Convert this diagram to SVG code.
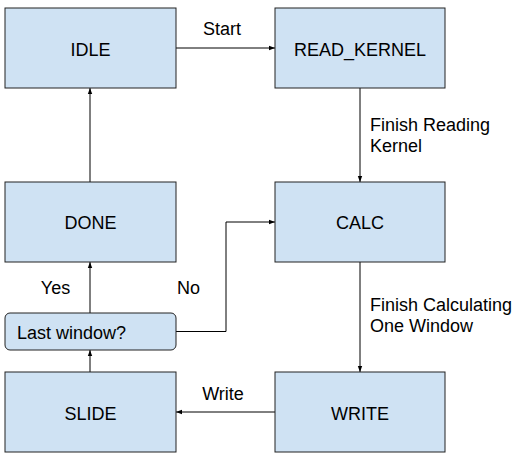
<svg xmlns="http://www.w3.org/2000/svg" width="524" height="463" viewBox="0 0 524 463">
<style>
.box{fill:#cfe2f3;stroke:#222;stroke-width:1}
.t{font-family:"Liberation Sans",Arial,sans-serif;font-size:18px;fill:#000}
.c{text-anchor:middle}
.ln{fill:none;stroke:#000;stroke-width:1}
</style>
<defs>
<marker id="ah" viewBox="0 0 6 6" refX="6" refY="3" markerWidth="6" markerHeight="6" markerUnits="userSpaceOnUse" orient="auto">
<path d="M0,0.8 L6,3 L0,5.2 Z" fill="#000"/>
</marker>
</defs>
<g id="connectors">
<line class="ln" x1="176" y1="48" x2="275" y2="48" marker-end="url(#ah)"/>
<line class="ln" x1="360" y1="88" x2="360" y2="182" marker-end="url(#ah)"/>
<line class="ln" x1="360" y1="262" x2="360" y2="372" marker-end="url(#ah)"/>
<line class="ln" x1="275" y1="412" x2="176" y2="412" marker-end="url(#ah)"/>
<line class="ln" x1="90" y1="372" x2="90" y2="350" marker-end="url(#ah)"/>
<line class="ln" x1="90" y1="313" x2="90" y2="262" marker-end="url(#ah)"/>
<line class="ln" x1="90" y1="182" x2="90" y2="88" marker-end="url(#ah)"/>
<polyline class="ln" points="176,331.5 226,331.5 226,222 275,222" marker-end="url(#ah)"/>
<text class="t c" x="222" y="34.5">Start</text>
<text class="t" x="370" y="130.5">Finish Reading</text>
<text class="t" x="370" y="151.5">Kernel</text>
<text class="t" x="370" y="311">Finish Calculating</text>
<text class="t" x="370" y="332">One Window</text>
<text class="t c" x="223" y="399.5">Write</text>
<text class="t c" x="55.5" y="293.5">Yes</text>
<text class="t" x="177" y="293.5">No</text>
</g>
<g id="idle"><rect class="box" x="5" y="8" width="171" height="80"/><text class="t c" x="90.5" y="55.5">IDLE</text></g>
<g id="read_kernel"><rect class="box" x="275" y="8" width="170" height="80"/><text class="t c" x="360" y="55.5">READ_KERNEL</text></g>
<g id="calc"><rect class="box" x="275" y="182" width="170" height="80"/><text class="t c" x="360" y="228.5">CALC</text></g>
<g id="done"><rect class="box" x="5" y="182" width="171" height="80"/><text class="t c" x="90.5" y="228.5">DONE</text></g>
<g id="last_window"><rect class="box" x="5" y="313" width="171" height="37" rx="5" ry="5"/><text class="t" x="17" y="338.5">Last window?</text></g>
<g id="slide"><rect class="box" x="5" y="372" width="171" height="80"/><text class="t c" x="90.5" y="419.5">SLIDE</text></g>
<g id="write"><rect class="box" x="275" y="372" width="170" height="80"/><text class="t c" x="360" y="419.5">WRITE</text></g>
</svg>
